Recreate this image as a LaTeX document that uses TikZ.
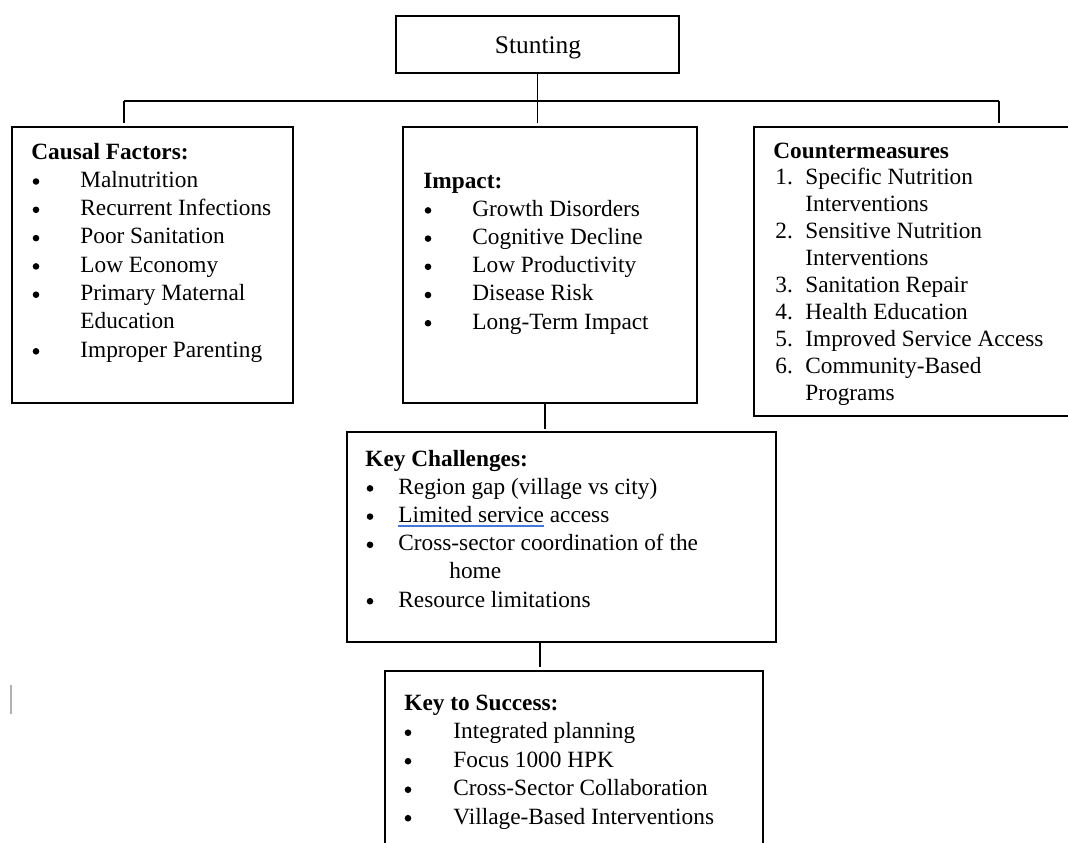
\documentclass[tikz,border=0pt]{standalone}
\usepackage{fontspec}
\setmainfont{Liberation Serif}
\newcommand\fsize{\fontsize{11.65pt}{14pt}\selectfont}
\definecolor{spell}{RGB}{70,118,214}
\tikzset{
  box/.style={draw, line width=1.3pt, anchor=north west, inner sep=0pt, outer sep=0pt},
  conn/.style={draw, line width=0.6pt},
  txt/.style={anchor=base west, inner sep=0pt, font=\fsize},
  hd/.style={anchor=base west, inner sep=0pt, font=\fsize\bfseries},
  bul/.style={circle, fill=black, inner sep=0pt, minimum size=3.3pt, yshift=2.9pt},
}
\begin{document}
\begin{tikzpicture}[x=0.5pt,y=-0.5pt]
\useasboundingbox (0,0) rectangle (1068,842);
\fill[white] (0,0) rectangle (1068,842);
\clip (0,0) rectangle (1068,842);

% boxes
\node[box, minimum width=141.5pt, minimum height=28.5pt] (stunt) at (396,16) {};
\node[anchor=base, inner sep=0pt, font=\fontsize{12.7pt}{15pt}\selectfont] (stunttxt) at (538,53) {Stunting};
\node[box, minimum width=140.5pt, minimum height=138pt] (causal) at (12,127) {};
\node[box, minimum width=147pt, minimum height=138pt] (impact) at (403,127) {};
\node[box, minimum width=165pt, minimum height=144.5pt] (counter) at (754,127) {};
\node[box, minimum width=214.5pt, minimum height=105pt] (kc) at (347,432) {};
\node[box, minimum width=189pt, minimum height=100pt] (ks) at (385,671) {};

% connectors
\coordinate (hl) at (124,101);
\coordinate (hr) at (999,101);
\coordinate (ik) at (545,403);
\coordinate (kk) at (540,642);
\draw[conn] (stunt.south) -- ([yshift=2pt]stunt.south |- impact.north);
\draw[conn] (hl) -- (hr);
\draw[conn] (hl) -- ([yshift=2pt]hl |- causal.north);
\draw[conn] (hr) -- ([yshift=2pt]hr |- counter.north);
\draw[conn] (ik |- impact.south) -- ([yshift=1.5pt]ik |- kc.north);
\draw[conn] (kk |- kc.south) -- ([yshift=2pt]kk |- ks.north);

% Causal Factors
\node[hd] (cfh) at (31,159) {Causal Factors:};
\node[bul] (cfb1) at (36,187.3) {};  \node[txt] (cf1) at (80,187.3) {Malnutrition};
\node[bul] (cfb2) at (36,215.6) {};  \node[txt] (cf2) at (80,215.6) {Recurrent Infections};
\node[bul] (cfb3) at (36,243.9) {};  \node[txt] (cf3) at (80,243.9) {Poor Sanitation};
\node[bul] (cfb4) at (36,272.2) {};  \node[txt] (cf4) at (80,272.2) {Low Economy};
\node[bul] (cfb5) at (36,300.5) {};  \node[txt] (cf5) at (80,300.5) {Primary Maternal};
\node[txt] (cf5b) at (80,328.8) {Education};
\node[bul] (cfb6) at (36,357.1) {};  \node[txt] (cf6) at (80,357.1) {Improper Parenting};

% Impact
\node[hd] (imh) at (423,188) {Impact:};
\node[bul] (imb1) at (428,216.2) {}; \node[txt] (im1) at (472,216.2) {Growth Disorders};
\node[bul] (imb2) at (428,244.4) {}; \node[txt] (im2) at (472,244.4) {Cognitive Decline};
\node[bul] (imb3) at (428,272.6) {}; \node[txt] (im3) at (472,272.6) {Low Productivity};
\node[bul] (imb4) at (428,300.8) {}; \node[txt] (im4) at (472,300.8) {Disease Risk};
\node[bul] (imb5) at (428,329.0) {}; \node[txt] (im5) at (472,329.0) {Long-Term Impact};

% Countermeasures
\node[hd] (cmh) at (773,158) {Countermeasures};
\node[txt] (cmn1) at (775,184.9) {1.}; \node[txt] (cm1) at (805,184.9) {Specific Nutrition};
\node[txt] (cm1b) at (805,211.8) {Interventions};
\node[txt] (cmn2) at (775,238.7) {2.}; \node[txt] (cm2) at (805,238.7) {Sensitive Nutrition};
\node[txt] (cm2b) at (805,265.6) {Interventions};
\node[txt] (cmn3) at (775,292.5) {3.}; \node[txt] (cm3) at (805,292.5) {Sanitation Repair};
\node[txt] (cmn4) at (775,319.4) {4.}; \node[txt] (cm4) at (805,319.4) {Health Education};
\node[txt] (cmn5) at (775,346.3) {5.}; \node[txt] (cm5) at (805,346.3) {Improved Service Access};
\node[txt] (cmn6) at (775,373.2) {6.}; \node[txt] (cm6) at (805,373.2) {Community-Based};
\node[txt] (cm6b) at (805,400.1) {Programs};

% Key Challenges
\node[hd] (kch) at (365,466) {Key Challenges:};
\node[bul] (kcb1) at (370,494.2) {}; \node[txt] (kc1) at (398,494.2) {Region gap (village vs city)};
\node[bul] (kcb2) at (370,522.4) {}; \node[txt] (kc2) at (398,522.4) {Limited service access};
\node[bul] (kcb3) at (370,550.6) {}; \node[txt] (kc3) at (398,550.6) {Cross-sector coordination of the};
\node[txt] (kc3b) at (449,578.8) {home};
\node[bul] (kcb4) at (370,607.0) {}; \node[txt] (kc4) at (398,607.0) {Resource limitations};
\coordinate (ul1) at (398,526);
\coordinate (ul2) at (544,526);
\draw[spell, line width=0.6pt] (ul1) -- (ul2);

% Key to Success
\node[hd] (ksh) at (404,710) {Key to Success:};
\node[bul] (ksb1) at (408,738.5) {}; \node[txt] (ks1) at (453,738.5) {Integrated planning};
\node[bul] (ksb2) at (408,767.0) {}; \node[txt] (ks2) at (453,767.0) {Focus 1000 HPK};
\node[bul] (ksb3) at (408,795.5) {}; \node[txt] (ks3) at (453,795.5) {Cross-Sector Collaboration};
\node[bul] (ksb4) at (408,824.0) {}; \node[txt] (ks4) at (453,824.0) {Village-Based Interventions};

% stray cursor mark
\coordinate (cur1) at (11,685);
\coordinate (cur2) at (11,714);
\draw[black!30, line width=0.6pt] (cur1) -- (cur2);
\end{tikzpicture}
\end{document}
